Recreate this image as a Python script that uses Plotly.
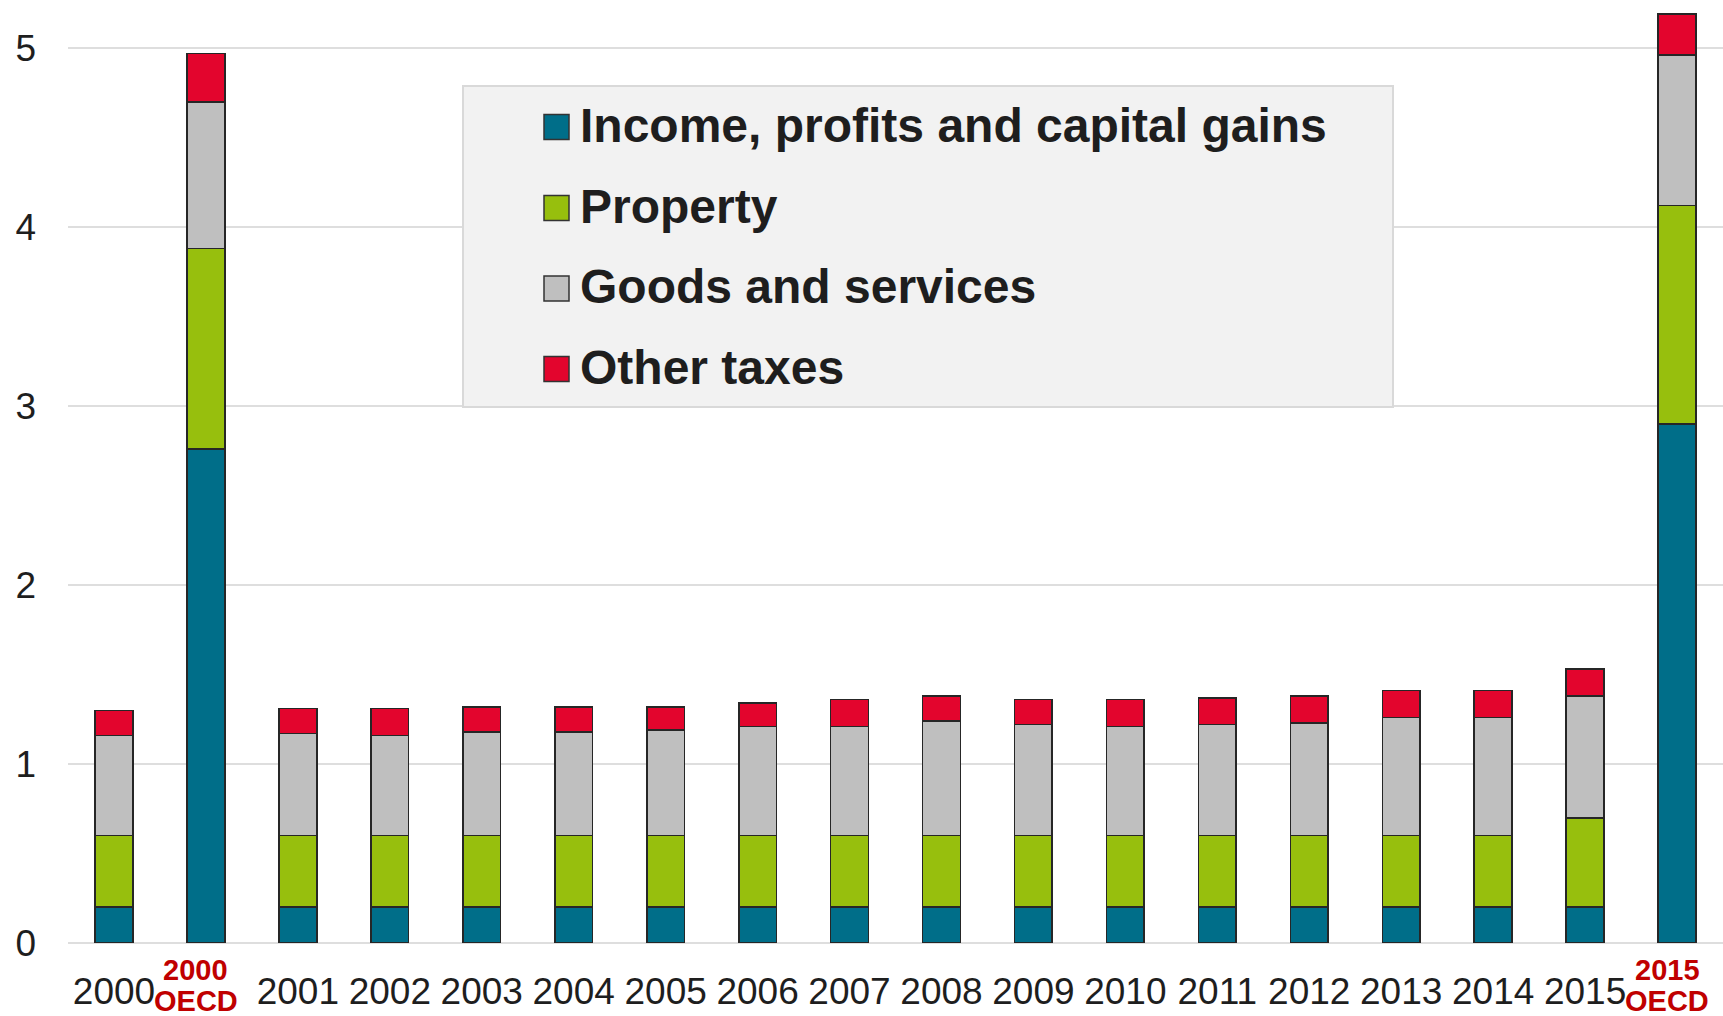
import plotly.graph_objects as go

# Categories along the x axis
categories = ["2000", "2000 OECD", "2001", "2002", "2003", "2004", "2005", "2006",
              "2007", "2008", "2009", "2010", "2011", "2012", "2013", "2014",
              "2015", "2015 OECD"]

# Tick labels: plain years, OECD averages drawn separately in red
tick_labels = ["2000", "", "2001", "2002", "2003", "2004", "2005", "2006",
               "2007", "2008", "2009", "2010", "2011", "2012", "2013", "2014",
               "2015", ""]
oecd_categories = ["2000 OECD", "2015 OECD"]
oecd_label_lines = [["2000", "OECD"], ["2015", "OECD"]]

# Tax revenue by type, % of GDP
income = [0.20, 2.76, 0.20, 0.20, 0.20, 0.20, 0.20, 0.20, 0.20, 0.20, 0.20,
          0.20, 0.20, 0.20, 0.20, 0.20, 0.20, 2.90]
property_tax = [0.40, 1.12, 0.40, 0.40, 0.40, 0.40, 0.40, 0.40, 0.40, 0.40, 0.40,
                0.40, 0.40, 0.40, 0.40, 0.40, 0.50, 1.22]
goods_services = [0.56, 0.82, 0.57, 0.56, 0.58, 0.58, 0.59, 0.61, 0.61, 0.64, 0.62,
                  0.61, 0.62, 0.63, 0.66, 0.66, 0.68, 0.84]
other_taxes = [0.14, 0.27, 0.14, 0.15, 0.14, 0.14, 0.13, 0.13, 0.15, 0.14, 0.14,
               0.15, 0.15, 0.15, 0.15, 0.15, 0.15, 0.23]

series_names = ["Income, profits and capital gains", "Property",
                "Goods and services", "Other taxes"]
series_values = [income, property_tax, goods_services, other_taxes]
series_colors = ["#006E89", "#97BF0D", "#BFBFBF", "#E3052D"]

y_ticks = [0, 1, 2, 3, 4, 5]

FONT = "Liberation Sans, Arial, sans-serif"
TEXT = "#1e1e1e"
OECD_RED = "#C00000"
GRID = "#DEDEDE"

W, H = 1723, 1016
M_L, M_R, M_T, M_B = 68, 0, 0, 73
PLOT_W = W - M_L - M_R
PLOT_H = H - M_T - M_B

fig = go.Figure()
for name, vals, color in zip(series_names, series_values, series_colors):
    fig.add_trace(go.Bar(
        x=categories, y=vals, name=name,
        marker=dict(color=color, line=dict(color="#262626", width=1.6)),
        showlegend=False,
    ))

fig.update_layout(
    width=W, height=H,
    barmode="stack", bargap=0.59,
    margin=dict(l=M_L, r=M_R, t=M_T, b=M_B),
    paper_bgcolor="white", plot_bgcolor="white",
    font=dict(family=FONT, color=TEXT),
    showlegend=False,
)
fig.update_xaxes(
    type="category", categoryorder="array", categoryarray=categories,
    tickmode="array", tickvals=categories, ticktext=tick_labels,
    tickfont=dict(size=37, color=TEXT, family=FONT),
    ticks="", ticklabelstandoff=23, showgrid=False, showline=False,
)
fig.update_yaxes(
    range=[0, 943 / 179], tickvals=y_ticks, ticktext=[str(v) for v in y_ticks],
    tickfont=dict(size=37, color=TEXT, family=FONT),
    ticks="", ticklabelstandoff=31,
    showgrid=True, gridcolor=GRID, gridwidth=2,
    zeroline=True, zerolinecolor=GRID, zerolinewidth=2, showline=False,
)

# Red two-line labels under the OECD average bars, one annotation per line
for cat, lines in zip(oecd_categories, oecd_label_lines):
    for line, shift in zip(lines, [-27, -58]):
        fig.add_annotation(
            x=cat, xref="x", y=0, yref="paper", yanchor="middle",
            yshift=shift, xshift=-10,
            text="<b>" + line + "</b>", showarrow=False,
            font=dict(size=29, color=OECD_RED, family=FONT),
        )


def px_x(px):
    return (px - M_L) / PLOT_W


def px_y(py):
    return 1 - (py - M_T) / PLOT_H


# Legend panel drawn with paper-coordinate shapes
fig.add_shape(type="rect", xref="paper", yref="paper",
              x0=px_x(463), x1=px_x(1393), y0=px_y(407), y1=px_y(86),
              fillcolor="#F2F2F2", line=dict(color="#D9D9D9", width=2))
row_y = [127, 208, 288.5, 369]
for name, color, cy in zip(series_names, series_colors, row_y):
    fig.add_shape(type="rect", xref="paper", yref="paper",
                  x0=px_x(544), x1=px_x(569), y0=px_y(cy + 12.5), y1=px_y(cy - 12.5),
                  fillcolor=color, line=dict(color="#333333", width=1.5))
    fig.add_annotation(
        x=px_x(578), xref="paper", y=px_y(cy - 2), yref="paper",
        xanchor="left", yanchor="middle", text="<b>" + name + "</b>",
        showarrow=False, font=dict(size=48, color=TEXT, family=FONT),
    )

fig.write_html("out.html")
